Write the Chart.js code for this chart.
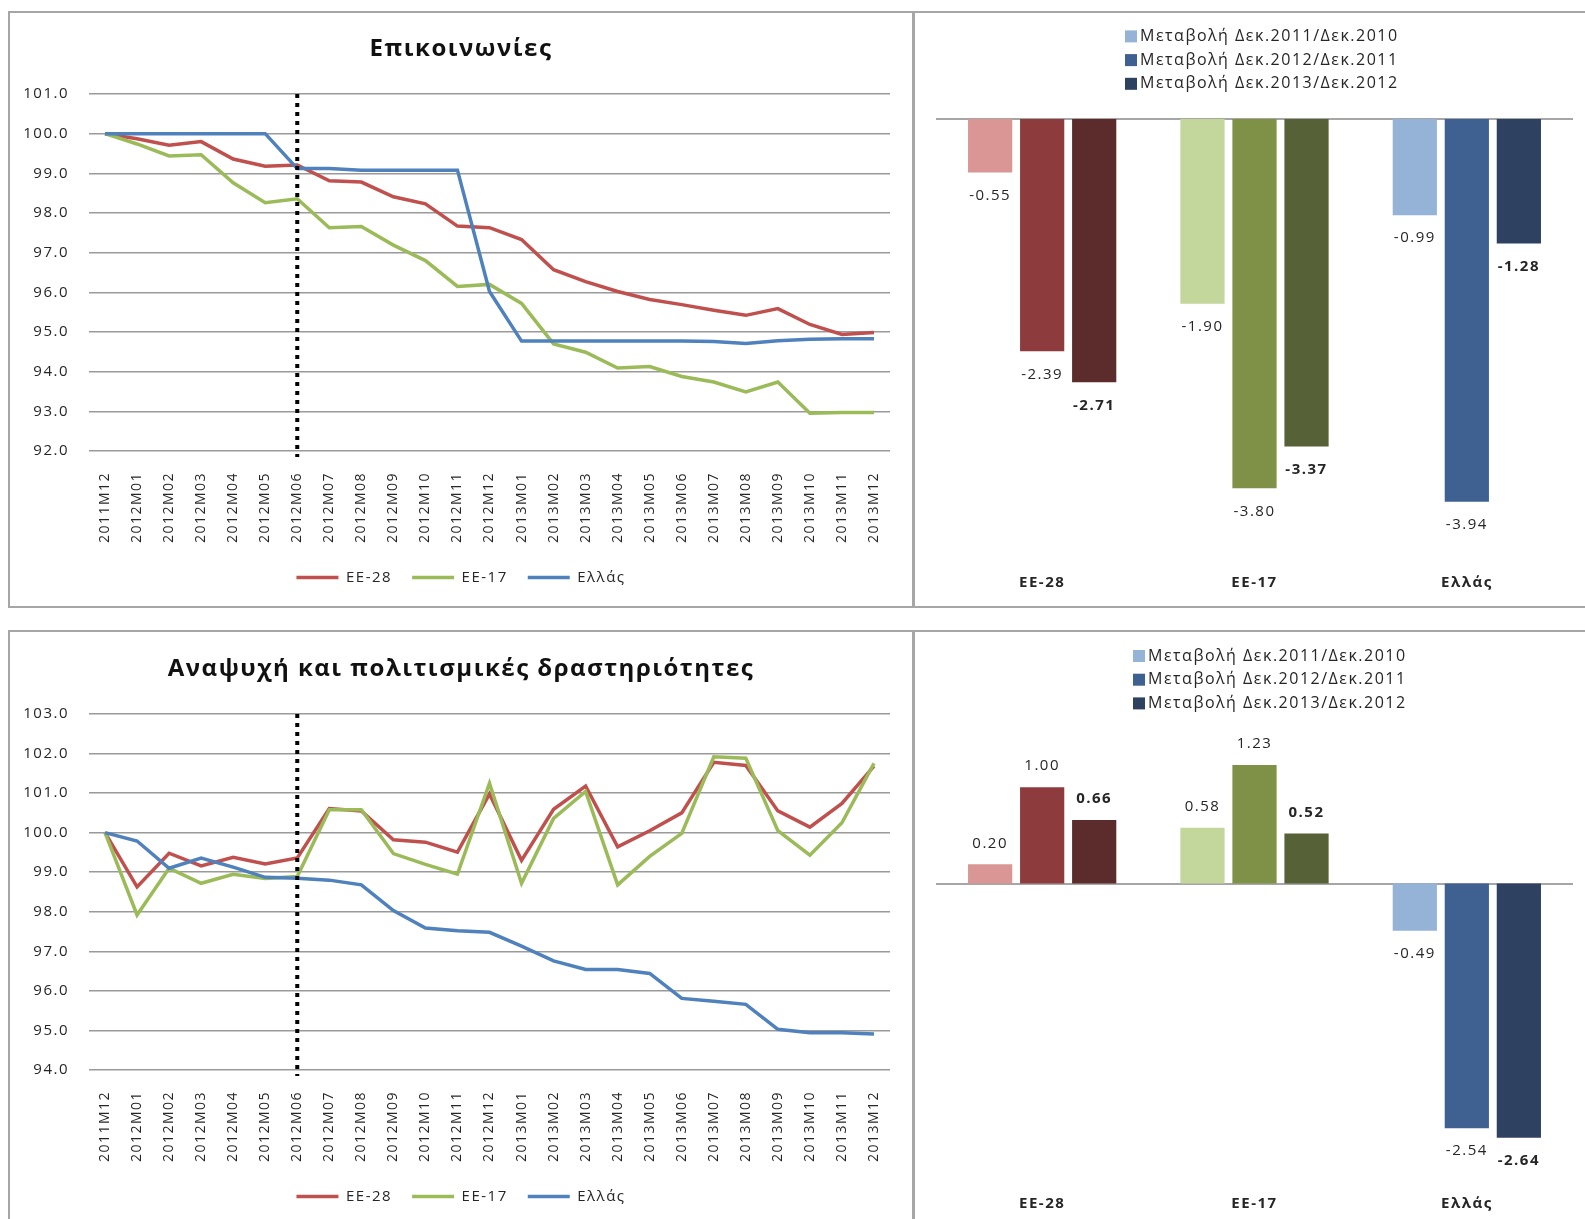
<!DOCTYPE html>
<html lang="el">
<head>
<meta charset="utf-8">
<script src="https://cdn.jsdelivr.net/npm/chart.js@4.4.1/dist/chart.umd.min.js"></script>
<style>
body { margin: 0; background: #fff; width: 1585px; height: 1219px; overflow: hidden; position: relative; }
.box { position: absolute; box-sizing: border-box; border: 2px solid #a6a6a6; }
canvas { position: absolute; }
</style>
</head>
<body>
<div class="box" style="left:8px;top:11px;width:906px;height:597px"></div>
<div class="box" style="left:912px;top:11px;width:700px;height:597px;border-left-width:3px"></div>
<div class="box" style="left:8px;top:630px;width:906px;height:620px"></div>
<div class="box" style="left:912px;top:630px;width:700px;height:620px;border-left-width:3px"></div>
<canvas id="commLine" width="900" height="591" style="left:11px;top:14px"></canvas>
<canvas id="commBars" width="670" height="591" style="left:915px;top:14px"></canvas>
<canvas id="leisLine" width="900" height="586" style="left:11px;top:633px"></canvas>
<canvas id="leisBars" width="670" height="586" style="left:915px;top:633px"></canvas>
<script>
const months = ['2011M12', '2012M01', '2012M02', '2012M03', '2012M04', '2012M05', '2012M06',
    '2012M07', '2012M08', '2012M09', '2012M10', '2012M11', '2012M12', '2013M01', '2013M02',
    '2013M03', '2013M04', '2013M05', '2013M06', '2013M07', '2013M08', '2013M09', '2013M10',
    '2013M11', '2013M12'];
const lineNames = ['ΕΕ-28', 'ΕΕ-17', 'Ελλάς'];

// Επικοινωνίες
const commEE28 = [100.0, 99.87, 99.71, 99.80, 99.36, 99.18, 99.21, 98.81, 98.78, 98.41, 98.23, 97.67, 97.63,
    97.33, 96.57, 96.27, 96.02, 95.82, 95.69, 95.55, 95.42, 95.59, 95.19, 94.94, 94.99];
const commEE17 = [100.0, 99.74, 99.44, 99.47, 98.76, 98.26, 98.36, 97.63, 97.66, 97.19, 96.80, 96.15, 96.20,
    95.72, 94.70, 94.49, 94.09, 94.13, 93.88, 93.74, 93.49, 93.74, 92.95, 92.97, 92.97];
const commGR = [100.0, 100.0, 100.0, 100.0, 100.0, 100.0, 99.12, 99.12, 99.08, 99.08, 99.08, 99.08, 96.02,
    94.77, 94.77, 94.77, 94.77, 94.77, 94.77, 94.76, 94.71, 94.78, 94.82, 94.83, 94.83];

// Αναψυχή και πολιτισμικές δραστηριότητες
const leisEE28 = [100.0, 98.63, 99.48, 99.16, 99.38, 99.21, 99.36, 100.61, 100.55, 99.82, 99.76, 99.51, 100.98,
    99.30, 100.59, 101.18, 99.64, 100.05, 100.50, 101.78, 101.70, 100.55, 100.14, 100.74, 101.68];
const leisEE17 = [100.0, 97.92, 99.10, 98.72, 98.95, 98.84, 98.89, 100.58, 100.58, 99.47, 99.20, 98.95, 101.25,
    98.72, 100.36, 101.04, 98.68, 99.40, 99.98, 101.92, 101.88, 100.05, 99.43, 100.25, 101.75];
const leisGR = [100.0, 99.79, 99.10, 99.36, 99.13, 98.87, 98.85, 98.80, 98.68, 98.03, 97.59, 97.52, 97.48,
    97.13, 96.76, 96.54, 96.54, 96.44, 95.81, 95.74, 95.66, 95.03, 94.94, 94.94, 94.91];

const barCategories = ['ΕΕ-28', 'ΕΕ-17', 'Ελλάς'];
const barSeries = ['Μεταβολή Δεκ.2011/Δεκ.2010', 'Μεταβολή Δεκ.2012/Δεκ.2011', 'Μεταβολή Δεκ.2013/Δεκ.2012'];
const commChange2011 = [-0.55, -1.90, -0.99];
const commChange2012 = [-2.39, -3.80, -3.94];
const commChange2013 = [-2.71, -3.37, -1.28];
const leisChange2011 = [0.20, 0.58, -0.49];
const leisChange2012 = [1.00, 1.23, -2.54];
const leisChange2013 = [0.66, 0.52, -2.64];

const lineColors = ['#C0504D', '#9BBB59', '#4F81BD'];
// one shade per bar series, per category (ΕΕ-28, ΕΕ-17, Ελλάς)
const barShades = [
    ['#D99694', '#C3D69B', '#95B3D7'],
    ['#8E3B3E', '#7E9146', '#3F6192'],
    ['#5C2C2C', '#576137', '#2E4161']
];
const textColor = '#262626';

Chart.defaults.font.family = '"Open Sans", sans-serif';

// Excel-like loose letter spacing
const spacing = {
    id: 'spacing',
    beforeLayout(chart) { chart.ctx.letterSpacing = '1.5px'; },
    beforeDraw(chart) { chart.ctx.letterSpacing = '1.5px'; }
};
Chart.register(spacing);

const juneLine = {
    id: 'juneLine',
    afterDatasetsDraw(chart, args, opts) {
        const {ctx, chartArea, scales} = chart;
        const x = scales.x.getPixelForValue(chart.data.labels.indexOf(opts.label));
        ctx.save();
        ctx.strokeStyle = '#000';
        ctx.lineWidth = 4;
        ctx.setLineDash([4, 5]);
        ctx.beginPath();
        ctx.moveTo(x, chartArea.top);
        ctx.lineTo(x, chartArea.bottom + 6);
        ctx.stroke();
        ctx.restore();
    }
};

function lineChart(id, title, ee28, ee17, gr, yMin, yMax, titleTop, padBottom) {
    const series = [ee28, ee17, gr];
    return new Chart(document.getElementById(id), {
        type: 'line',
        data: {
            labels: months,
            datasets: series.map((s, i) => ({
                label: lineNames[i],
                data: s,
                borderColor: lineColors[i],
                backgroundColor: lineColors[i],
                borderWidth: 3.5,
                pointRadius: 0,
                tension: 0,
                order: 3 - i
            }))
        },
        options: {
            responsive: false,
            animation: false,
            layout: { padding: { left: 0, right: 0, top: 0, bottom: padBottom } },
            scales: {
                x: {
                    offset: true,
                    grid: { display: false },
                    border: { display: false },
                    ticks: { minRotation: 90, maxRotation: 90, autoSkip: false, padding: 13,
                        font: { size: 14 }, color: textColor },
                    afterFit: s => { s.height = 99; }
                },
                y: {
                    min: yMin,
                    max: yMax,
                    grid: { color: '#9a9a9a', lineWidth: 1.5, drawTicks: false },
                    border: { display: false },
                    ticks: { stepSize: 1, padding: 20, font: { size: 15 }, color: textColor,
                        callback: v => v.toFixed(1) },
                    afterFit: s => { s.width = 78; }
                },
                // empty right-hand margin so the title and legend stay centred on the panel
                yRight: {
                    position: 'right',
                    grid: { display: false },
                    border: { display: false },
                    ticks: { display: false },
                    afterFit: s => { s.width = 21; }
                }
            },
            plugins: {
                title: { display: true, text: title, color: '#111',
                    font: { size: 24, weight: 'bold' }, padding: { top: titleTop, bottom: 30.6 } },
                legend: {
                    position: 'bottom',
                    labels: { usePointStyle: true, pointStyle: 'line', pointStyleWidth: 42,
                        font: { size: 15 }, color: textColor, padding: 20,
                        sort: (a, b) => a.datasetIndex - b.datasetIndex }
                },
                tooltip: { enabled: false },
                juneLine: { label: '2012M06' }
            }
        },
        plugins: [juneLine]
    });
}

const zeroLine = {
    id: 'zeroLine',
    beforeDatasetsDraw(chart) {
        const {ctx, chartArea, scales} = chart;
        const y = Math.round(scales.y.getPixelForValue(0));
        ctx.save();
        ctx.strokeStyle = '#a6a6a6';
        ctx.lineWidth = 2;
        ctx.beginPath();
        ctx.moveTo(chartArea.left, y);
        ctx.lineTo(chartArea.right, y);
        ctx.stroke();
        ctx.restore();
    }
};

const valueLabels = {
    id: 'valueLabels',
    afterDatasetsDraw(chart) {
        const ctx = chart.ctx;
        ctx.save();
        ctx.textAlign = 'center';
        ctx.textBaseline = 'middle';
        ctx.fillStyle = textColor;
        chart.data.datasets.forEach((ds, i) => {
            ctx.font = (i === 2 ? 'bold ' : '') + '15px "Open Sans"';
            chart.getDatasetMeta(i).data.forEach((bar, j) => {
                const v = ds.data[j];
                ctx.fillText(v.toFixed(2), bar.x, v < 0 ? bar.y + 23 : bar.y - 21);
            });
        });
        ctx.restore();
    }
};

const seriesKey = {
    id: 'seriesKey',
    afterDraw(chart, args, opts) {
        const ctx = chart.ctx;
        ctx.save();
        ctx.font = '16px "Open Sans"';
        ctx.textAlign = 'left';
        ctx.textBaseline = 'middle';
        chart.data.datasets.forEach((ds, i) => {
            const y = opts.top + i * 23.7;
            ctx.fillStyle = ds.backgroundColor[2];
            ctx.fillRect(opts.left, y - 6, 12, 12);
            ctx.fillStyle = textColor;
            ctx.fillText(ds.label, opts.left + 15, y);
        });
        ctx.restore();
    }
};

function barChart(id, s2011, s2012, s2013, yMin, yMax, padTop, padBottom, keyLeft, keyTop) {
    const series = [s2011, s2012, s2013];
    return new Chart(document.getElementById(id), {
        type: 'bar',
        data: {
            labels: barCategories,
            datasets: series.map((s, i) => ({
                label: barSeries[i],
                data: s,
                backgroundColor: barShades[i],
                categoryPercentage: 0.735,
                barPercentage: 0.85
            }))
        },
        options: {
            responsive: false,
            animation: false,
            layout: { padding: { left: 21, right: 12, top: padTop, bottom: padBottom } },
            scales: {
                x: {
                    grid: { display: false },
                    border: { display: false },
                    ticks: { font: { size: 15, weight: 'bold' }, color: textColor, padding: 0 },
                    afterFit: s => { s.height = 30; }
                },
                y: { display: false, min: yMin, max: yMax }
            },
            plugins: {
                legend: { display: false },
                tooltip: { enabled: false },
                seriesKey: { left: keyLeft, top: keyTop }
            }
        },
        plugins: [zeroLine, valueLabels, seriesKey]
    });
}

lineChart('commLine', 'Επικοινωνίες', commEE28, commEE17, commGR, 92, 101, 20.6, 10);
lineChart('leisLine', 'Αναψυχή και πολιτισμικές δραστηριότητες', leisEE28, leisEE17, leisGR, 94, 103, 21.6, 5);
barChart('commBars', commChange2011, commChange2012, commChange2013, -4.6, 0, 105, 9, 210, 22.4);
barChart('leisBars', leisChange2011, leisChange2012, leisChange2013, -3.15, 1.5, 106, 2, 218, 23);
</script>
</body>
</html>
